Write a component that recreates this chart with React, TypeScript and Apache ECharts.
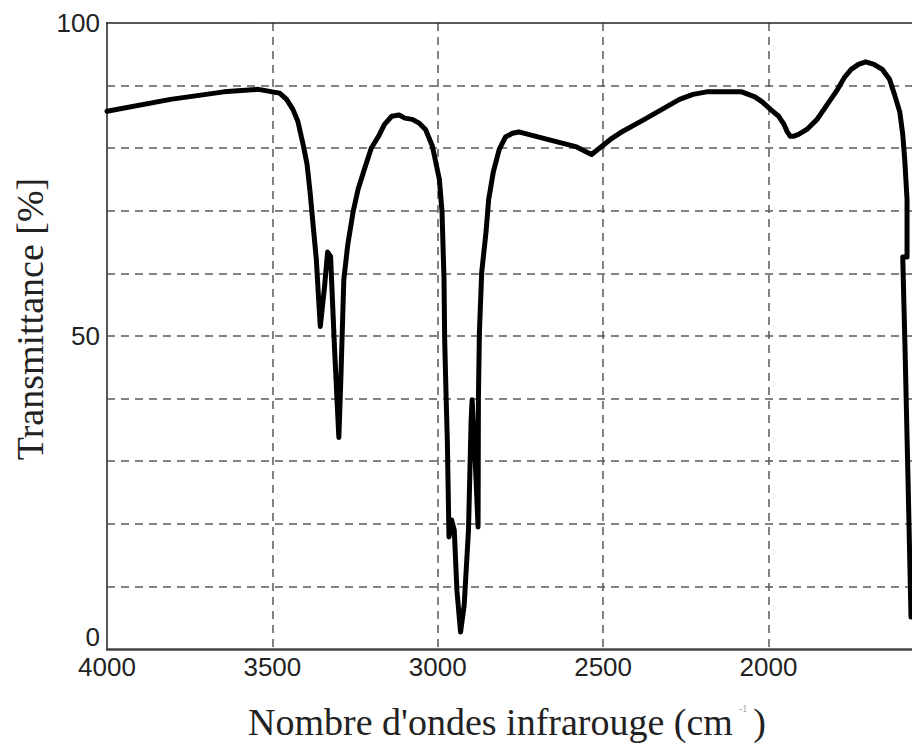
import React, { useEffect, useRef } from "react";
import * as echarts from "echarts";

// Wavenumber (cm^-1), from left (4000) to the right edge
const wavenumbers = [
  4000, 3808, 3647, 3542, 3500, 3478, 3457, 3438, 3423, 3407, 3395, 3386,
  3377, 3367, 3361, 3355, 3342, 3333, 3324, 3312, 3299, 3293, 3284, 3272,
  3256, 3241, 3222, 3201, 3179, 3161, 3139, 3117, 3099, 3077, 3056, 3037,
  3016, 2995, 2987, 2981, 2979, 2975, 2971, 2966, 2958, 2950, 2942, 2931,
  2920, 2907, 2899, 2896, 2888, 2878, 2877, 2874, 2867, 2854, 2846, 2832,
  2814, 2795, 2774, 2755, 2668, 2580, 2535, 2478, 2447, 2375, 2269, 2228,
  2187, 2134, 2081, 2041, 2019, 1994, 1969, 1953, 1944, 1934, 1925, 1909,
  1884, 1853, 1822, 1791, 1769, 1750, 1728, 1706, 1681, 1656, 1634, 1619,
  1603, 1594, 1588, 1581, 1581, 1581, 1594, 1587, 1578, 1569,
];
// Transmittance (%) at those wavenumbers
const transmittance = [
  85.9, 87.8, 89.0, 89.4, 89.0, 88.8, 87.8, 86.2, 84.3, 80.6, 77.4, 73.0,
  67.8, 62.2, 56.6, 51.5, 58.0, 63.4, 62.7, 48.0, 33.8, 43.0, 59.0, 64.6,
  69.8, 73.4, 76.6, 80.0, 81.9, 83.8, 85.1, 85.3, 84.8, 84.6, 84.0, 83.0,
  80.3, 75.0, 69.8, 59.0, 49.4, 41.0, 33.4, 17.9, 20.6, 19.0, 9.4, 2.7,
  7.0, 19.0, 36.6, 39.8, 31.8, 19.5, 40.0, 50.6, 60.2, 66.6, 71.8, 76.2,
  79.8, 81.8, 82.4, 82.6, 81.4, 80.2, 79.0, 81.4, 82.5, 84.6, 87.8, 88.6,
  89.0, 89.0, 89.0, 88.2, 87.4, 86.2, 85.1, 83.8, 82.7, 81.9, 81.9, 82.2,
  83.0, 84.6, 87.0, 89.4, 91.4, 92.6, 93.4, 93.8, 93.4, 92.6, 91.0, 88.6,
  85.8, 82.2, 78.2, 71.8, 65.4, 62.6, 62.6, 47.8, 27.0, 5.1,
];

// y tick labels drawn by the axis; "0" is drawn slightly raised, as in the reference
const yLabelValues = [50, 100];
const yZeroLabel = "0";
const xTitle = "Nombre d'ondes infrarouge (cm{sup|-1})";
const yTitle = "Transmittance [%]";

const X_MIN = 1566;
const X_MAX = 4000;

export default function App() {
  const ref = useRef<HTMLDivElement>(null);

  useEffect(() => {
    if (!ref.current) return;
    const chart = echarts.init(ref.current, undefined, { renderer: "svg" });
    const data = wavenumbers.map((w, i) => [w, transmittance[i]]);
    const gridLine = {
      show: true,
      showMinLine: false,
      showMaxLine: false,
      lineStyle: { color: "#5a5a5a", width: 1.5, type: [8, 6] as any },
    };
    chart.setOption({
      animation: false,
      backgroundColor: "#ffffff",
      grid: {
        left: 107,
        top: 23,
        right: 0,
        bottom: 96,
        containLabel: false,
        outerBoundsMode: "none",
      },
      xAxis: [
        {
          type: "value",
          inverse: true,
          min: X_MIN,
          max: X_MAX,
          axisLine: { show: true, onZero: false, lineStyle: { color: "#444", width: 2.5 } },
          axisTick: { show: false },
          axisLabel: {
            margin: 5,
            color: "#222",
            fontFamily: "Liberation Sans",
            fontSize: 26,
            formatter: (v: number) => (v % 500 === 0 ? String(v) : ""),
            showMinLabel: false,
          },
          splitLine: gridLine,
        },
        {
          type: "value",
          position: "top",
          inverse: true,
          min: X_MIN,
          max: X_MAX,
          axisLine: { show: true, onZero: false, lineStyle: { color: "#222", width: 1.5 } },
          axisTick: { show: false },
          axisLabel: { show: false },
          splitLine: { show: false },
        },
      ],
      yAxis: {
        type: "value",
        min: 0,
        max: 100,
        interval: 10,
        axisLine: { show: true, lineStyle: { color: "#555", width: 2 } },
        axisTick: { show: false },
        axisLabel: {
          margin: 7,
          color: "#222",
          fontFamily: "Liberation Sans",
          fontSize: 26,
          formatter: (v: number) => (yLabelValues.includes(v) ? String(v) : ""),
        },
        splitLine: gridLine,
      },
      graphic: [
        {
          type: "text",
          x: 100,
          y: 637,
          style: {
            text: yZeroLabel,
            font: "26px 'Liberation Sans'",
            fill: "#222",
            align: "right",
            verticalAlign: "middle",
          },
        },
        {
          type: "text",
          x: 30,
          y: 319,
          rotation: Math.PI / 2,
          style: {
            text: yTitle,
            font: "38px 'Liberation Serif'",
            fill: "#222",
            align: "center",
            verticalAlign: "middle",
          },
        },
        {
          type: "text",
          x: 507,
          y: 722,
          style: {
            text: xTitle,
            font: "38px 'Liberation Serif'",
            fill: "#222",
            align: "center",
            verticalAlign: "middle",
            rich: {
              sup: {
                fontSize: 10,
                fontFamily: "Liberation Serif",
                fill: "#999",
                verticalAlign: "top",
                padding: [0, 6, 0, 6],
              },
            },
          },
        },
      ],
      series: [
        {
          type: "line",
          xAxisIndex: 0,
          data,
          showSymbol: false,
          smooth: false,
          lineStyle: { color: "#000", width: 5, join: "round", cap: "round" },
          clip: true,
        },
      ],
    });
    return () => chart.dispose();
  }, []);

  return (
    <div
      ref={ref}
      style={{ position: "absolute", left: 0, top: 0, width: 912, height: 745 }}
    />
  );
}
